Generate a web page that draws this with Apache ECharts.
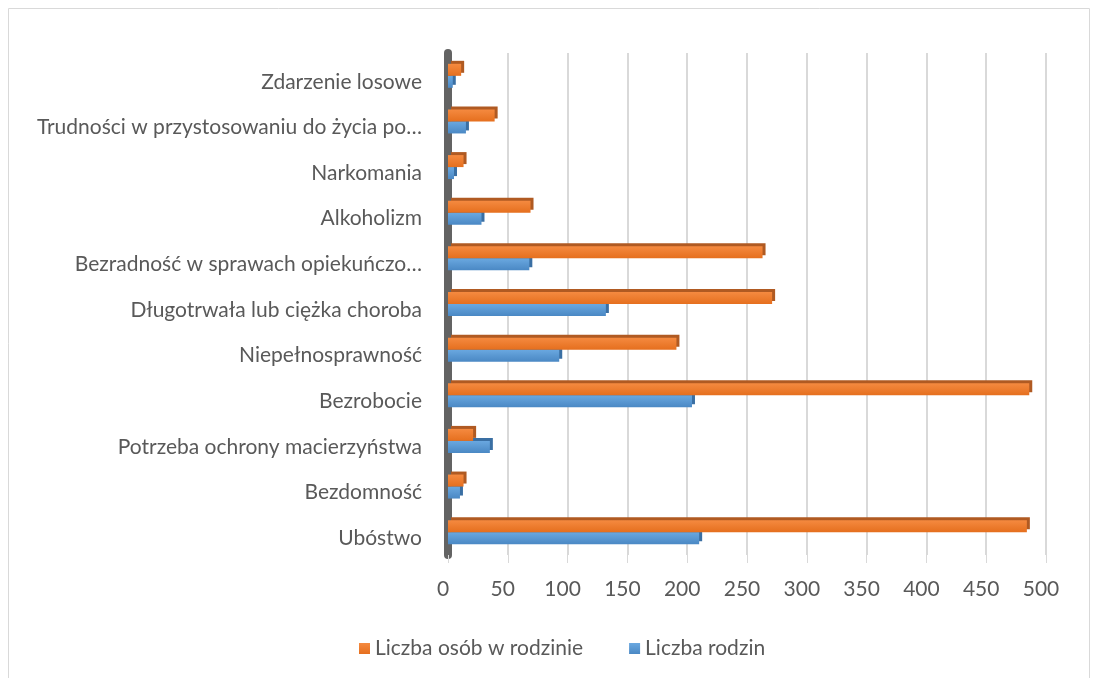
<!DOCTYPE html>
<html>
<head>
<meta charset="utf-8">
<script src="https://cdn.jsdelivr.net/npm/echarts@6/dist/echarts.min.js"></script>
<style>
  html, body { margin: 0; padding: 0; background: #fff; }
  #chart { width: 1098px; height: 678px; }
</style>
</head>
<body>
<div id="chart"></div>
<script>
// kategorie od dołu do góry
const categories = [
  'Ubóstwo',
  'Bezdomność',
  'Potrzeba ochrony macierzyństwa',
  'Bezrobocie',
  'Niepełnosprawność',
  'Długotrwała lub ciężka choroba',
  'Bezradność w sprawach opiekuńczo…',
  'Alkoholizm',
  'Narkomania',
  'Trudności w przystosowaniu do życia po…',
  'Zdarzenie losowe',
]
const liczbaRodzin = [210, 10, 35, 204, 93, 132, 68, 28, 5, 15, 4]
const liczbaOsob = [484, 13, 21, 486, 191, 271, 263, 69, 13, 39, 11]
const xTicks = { min: 0, max: 500, interval: 50 }

const font = 'Lato, "Open Sans", sans-serif'
const textColor = '#595959'

const chart = echarts.init(document.getElementById('chart'))

// efekt 3D: jaśniejsza góra + ciemniejsza krawędź z prawej/u góry
function barStyle(top, bottom, edge) {
  return {
    color: new echarts.graphic.LinearGradient(0, 0, 0, 1, [
      { offset: 0, color: top },
      { offset: 1, color: bottom },
    ]),
    shadowColor: edge,
    shadowOffsetX: 3,
    shadowOffsetY: -3,
    shadowBlur: 0,
  }
}

chart.setOption({
  animation: false,
  graphic: [
    {
      type: 'rect',
      shape: { x: 8.5, y: 8.5, width: 1081, height: 720 },
      style: { fill: 'none', stroke: '#d9d9d9', lineWidth: 1 },
      silent: true,
    },
  ],
  grid: {
    left: 448,
    right: 52,
    top: 53,
    bottom: 123,
    containLabel: false,
  },
  legend: {
    data: ['Liczba osób w rodzinie', 'Liczba rodzin'],
    left: 354,
    top: 633,
    itemWidth: 11,
    itemHeight: 11,
    itemGap: 46,
    icon: 'rect',
    itemStyle: { shadowBlur: 0, shadowOffsetX: 0, shadowOffsetY: 0, shadowColor: 'rgba(0,0,0,0)' },
    textStyle: { color: textColor, fontSize: 21, fontFamily: font },
  },
  xAxis: {
    type: 'value',
    min: xTicks.min,
    max: xTicks.max,
    interval: xTicks.interval,
    axisLine: { show: false },
    axisTick: { show: true, length: 8, lineStyle: { color: '#d9d9d9', width: 1 } },
    axisLabel: {
      color: textColor,
      fontSize: 21,
      fontFamily: font,
      margin: 24,
      padding: [0, 10, 0, 0],
    },
    splitLine: { lineStyle: { color: '#d9d9d9', width: 2 } },
  },
  yAxis: {
    type: 'category',
    data: categories,
    axisLine: { show: true, lineStyle: { color: '#636363', width: 8 } },
    axisTick: { show: false },
    axisLabel: {
      color: textColor,
      fontSize: 21,
      fontFamily: font,
      margin: 26,
      verticalAlign: 'top',
      lineHeight: 12,
    },
  },
  series: [
    {
      name: 'Liczba osób w rodzinie',
      type: 'bar',
      data: liczbaOsob,
      barWidth: 12,
      barGap: '0%',
      z: 3,
      itemStyle: barStyle('#f58a40', '#e56f1e', '#b05a22'),
    },
    {
      name: 'Liczba rodzin',
      type: 'bar',
      data: liczbaRodzin,
      barWidth: 12,
      barGap: '0%',
      z: 2,
      itemStyle: barStyle('#6aa8e0', '#4a88c4', '#3a6fa3'),
    },
  ],
})
</script>
</body>
</html>
